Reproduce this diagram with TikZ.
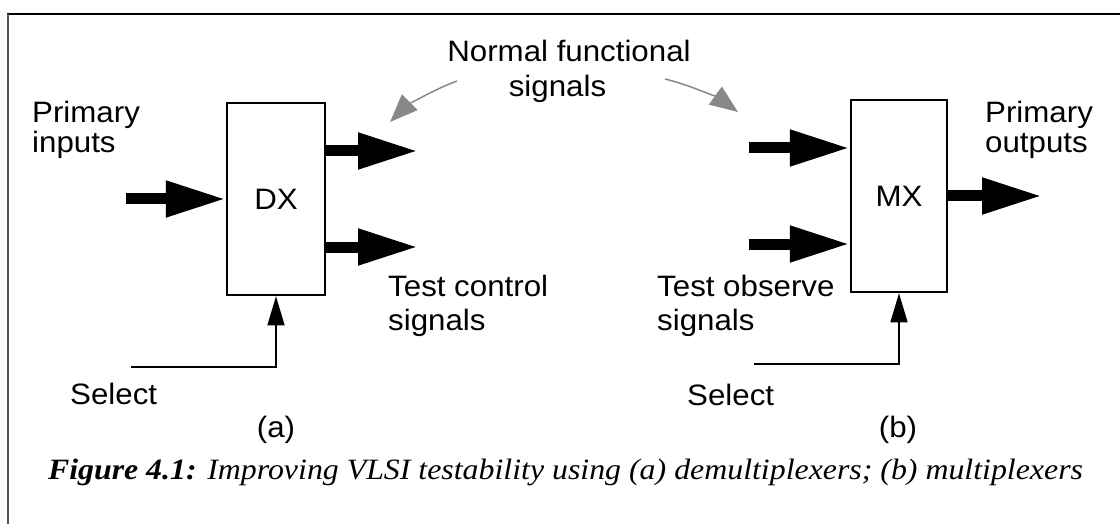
\documentclass[tikz,border=0pt]{standalone}
\usepackage{fontspec}
\setmainfont{Liberation Sans}[FakeStretch=1.06]
\newfontfamily\capfont{Liberation Serif}[FakeStretch=1.08]
\usetikzlibrary{arrows.meta}
\definecolor{hintgray}{HTML}{888888}
\definecolor{framegray}{HTML}{555555}
\begin{document}
\begin{tikzpicture}[x=1pt,y=-1pt,
  lbl/.style={font=\fontsize{29.5}{31}\selectfont, inner sep=0, anchor=base west, align=left},
  blk/.style={draw, line width=2.5pt, inner sep=0, minimum height=192pt,
              font=\fontsize{29.5}{31}\selectfont},
  fat/.style={line width=11pt, -{Triangle[length=60pt,width=34pt]}},
  sel/.style={line width=1.3pt, -{Triangle[length=29pt,width=17pt]}},
  hint/.style={draw=hintgray, line width=1.5pt,
               -{Triangle[length=28pt,width=22pt,fill=hintgray]}}]
\useasboundingbox (0,0) rectangle (1120,524);
% frame
\draw[line width=2pt] (7,14) -- (1120,14);
\draw[line width=2pt, framegray] (8,14) -- (8,524);

% boxes
\node[blk, minimum width=98pt] (dx) at (276,199) {DX};
\node[blk, minimum width=96pt] (mx) at (899,196) {MX};

% labels (base anchor = baseline of the last line)
\node[lbl] (pin) at (32,153) {Primary\\[-1pt]inputs};
\node[lbl] (pout) at (985,153) {Primary\\[-1pt]outputs};
\node[lbl, font=\fontsize{29.5}{34}\selectfont] (tcs) at (388,330) {Test control\\signals};
\node[lbl, font=\fontsize{29.5}{34}\selectfont] (tos) at (657,330) {Test observe\\signals};
\node[lbl] (sela) at (70,404) {Select};
\node[lbl] (selb) at (687,405) {Select};
\node[lbl, anchor=base] (la) at (276,437) {(a)};
\node[lbl, anchor=base] (lb) at (898,437) {(b)};
\node[lbl, anchor=base, align=center, font=\fontsize{29.5}{35}\selectfont] (nfs) at (569,97)
  {Normal functional\\signals\hspace*{23pt}};

% caption
\node[anchor=base, inner sep=0, font=\capfont\fontsize{29.5}{31}\selectfont\itshape] (cap) at (565.5,479)
  {\textbf{Figure 4.1:} Improving VLSI testability using (a) demultiplexers; (b) multiplexers};

% free ends
\coordinate (dxin) at (126,199);
\coordinate (dxo1) at (418,151);
\coordinate (dxo2) at (418,247);
\coordinate (mxi1) at (749,148);
\coordinate (mxi2) at (749,244);
\coordinate (mxo) at (1042,196);
\coordinate (sa) at (131,367);
\coordinate (sb) at (754,364);
\coordinate (h1s) at (457,81);
\coordinate (h1e) at (390,122);
\coordinate (h2s) at (665,79);
\coordinate (h2e) at (738,112);

% thick arrows
\draw[fat] (dxin) -- (dx.west);
\draw[fat] (dx.east |- dxo1) -- (dxo1);
\draw[fat] (dx.east |- dxo2) -- (dxo2);
\draw[fat] (mxi1) -- (mx.west |- mxi1);
\draw[fat] (mxi2) -- (mx.west |- mxi2);
\draw[fat] (mx.east) -- (mxo);

% select lines
\draw[sel] (sa) -- (dx.south |- sa) -- (dx.south);
\draw[sel] (sb) -- (mx.south |- sb) -- (mx.south);

% gray hint arrows
\draw[hint] (h1s) .. controls (432,90) and (404,108) .. (h1e);
\draw[hint] (h2s) .. controls (690,85) and (720,99) .. (h2e);
\end{tikzpicture}
\end{document}
